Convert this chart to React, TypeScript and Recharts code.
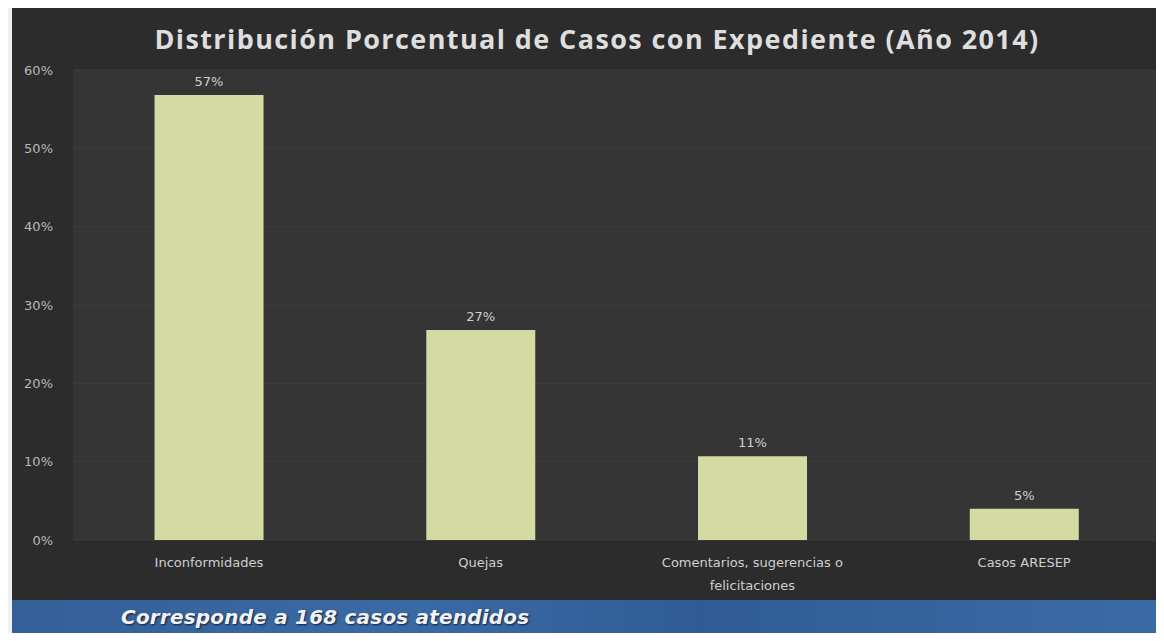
import React from 'react';
import { BarChart, Bar, XAxis, YAxis, CartesianGrid, LabelList, Text } from 'recharts';

const categories = ['Inconformidades', 'Quejas', 'Comentarios, sugerencias o felicitaciones', 'Casos ARESEP'];
const shares = [56.8, 26.8, 10.7, 4];
const shareLabels = ['57%', '27%', '11%', '5%'];
const yTicks = [0, 10, 20, 30, 40, 50, 60];

const data = categories.map((name, i) => ({ name, value: shares[i], label: shareLabels[i] }));

const axisFont = '"DejaVu Sans", Verdana, sans-serif';

const CategoryTick = (props: any) => {
  const { x, y, payload } = props;
  return (
    <Text
      x={x}
      y={y}
      width={225}
      lineHeight="1.75em"
      textAnchor="middle"
      verticalAnchor="start"
      fill="#cfcfcf"
      fontSize={13}
      fontFamily={axisFont}
    >
      {payload.value}
    </Text>
  );
};

const App: React.FC = () => {
  return (
    <div style={{ position: 'relative', width: 1164, height: 641, margin: -8, background: '#eef0f2', overflow: 'hidden' }}>
      <div style={{ position: 'absolute', left: 12, top: 6, width: 1148, height: 594, background: '#2c2c2c' }} />
      <div
        style={{
          position: 'absolute',
          left: 12,
          top: 20,
          width: 1170,
          textAlign: 'center',
          color: '#dedede',
          fontFamily: '"Open Sans", sans-serif',
          fontWeight: 700,
          fontSize: 27,
          letterSpacing: 1.4,
        }}
      >
        Distribución Porcentual de Casos con Expediente (Año 2014)
      </div>
      <div style={{ position: 'absolute', left: 12, top: 40 }}>
        <BarChart width={1148} height={560} data={data} margin={{ top: 30, right: 0, bottom: 30, left: 11 }} barCategoryGap="30%">
          <CartesianGrid vertical={false} stroke="#3d3d3d" fill="#353535" />
          <XAxis
            dataKey="name"
            axisLine={false}
            tickLine={false}
            tick={<CategoryTick />}
            tickMargin={12}
            interval={0}
          />
          <YAxis
            domain={[0, 60]}
            ticks={yTicks}
            width={50}
            axisLine={false}
            tickLine={false}
            tickMargin={14}
            tickFormatter={(v: number) => `${v}%`}
            tick={{ fill: '#b8b8b8', fontSize: 13, fontFamily: axisFont }}
          />
          <Bar dataKey="value" fill="#d5daa2" isAnimationActive={false}>
            <LabelList dataKey="label" position="top" offset={9} fill="#cfcfcf" fontSize={13} fontFamily={axisFont} />
          </Bar>
        </BarChart>
      </div>
      <div
        style={{
          position: 'absolute',
          left: 12,
          top: 600,
          width: 1148,
          height: 36,
          background: 'linear-gradient(90deg, #355f97 0%, #3a6aa6 35%, #2f5c94 60%, #3b6ba6 100%)',
        }}
      />
      <div
        style={{
          position: 'absolute',
          left: 121,
          top: 605,
          color: '#f2f2f2',
          fontFamily: '"DejaVu Sans", sans-serif',
          fontStyle: 'italic',
          fontWeight: 700,
          fontSize: 20,
          letterSpacing: 0.2,
          textShadow: '1px 1px 2px #10213a',
        }}
      >
        Corresponde a 168 casos atendidos
      </div>
    </div>
  );
};

export default App;
